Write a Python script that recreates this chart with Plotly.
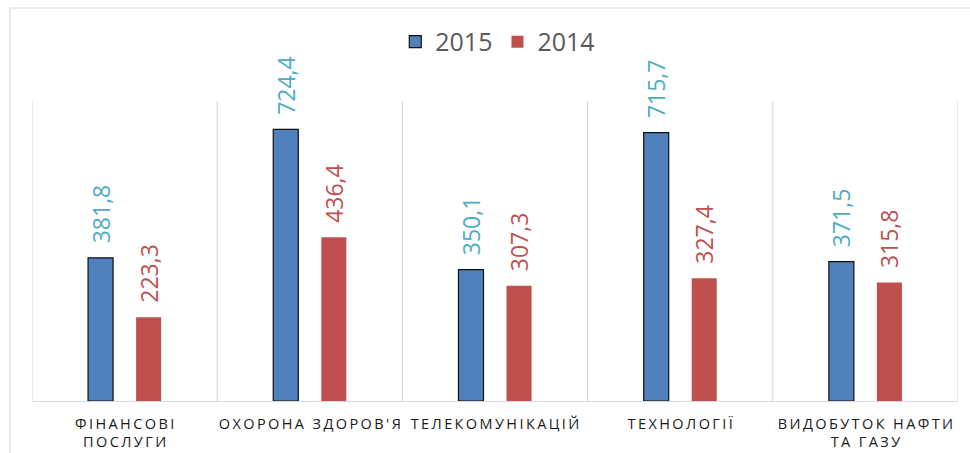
import plotly.graph_objects as go

categories = ["ФІНАНСОВІ<br>ПОСЛУГИ", "ОХОРОНА ЗДОРОВ'Я", "ТЕЛЕКОМУНІКАЦІЙ", "ТЕХНОЛОГІЇ", "ВИДОБУТОК НАФТИ<br>ТА ГАЗУ"]
values_2015 = [381.8, 724.4, 350.1, 715.7, 371.5]
values_2014 = [223.3, 436.4, 307.3, 327.4, 315.8]


def spaced(label):
    lines = label.split("<br>")
    return "<br>".join("\u2009".join(line) for line in lines)


tick_text = [spaced(c) for c in categories]
x_idx = list(range(len(categories)))

FONT = "Open Sans"
LABEL_TEMPLATE = "\u2002%{y:.1f}"

fig = go.Figure()
fig.add_trace(go.Bar(
    name="2015", x=x_idx, y=values_2015,
    marker=dict(color="#4f81bd", line=dict(color="#111111", width=1.2)),
    texttemplate=LABEL_TEMPLATE, textposition="outside", textangle=-90,
    constraintext="none",
    textfont=dict(family=FONT, size=23, color="#4bacc6"),
    cliponaxis=False,
))
fig.add_trace(go.Bar(
    name="2014", x=x_idx, y=values_2014,
    marker=dict(color="#c0504d", line=dict(width=0)),
    texttemplate=LABEL_TEMPLATE, textposition="outside", textangle=-90,
    constraintext="none",
    textfont=dict(family=FONT, size=23, color="#c0504d"),
    cliponaxis=False,
))

fig.update_layout(
    width=970, height=453,
    margin=dict(l=32, r=12, t=101, b=52),
    paper_bgcolor="white", plot_bgcolor="white",
    separators=", ",
    barmode="group", bargap=0.481, bargroupgap=0.479,
    font=dict(family=FONT, color="#262626"),
    legend=dict(orientation="h", x=0.503, xanchor="center", y=1.197, yanchor="middle",
                font=dict(family=FONT, size=25, color="#595959"),
                itemclick=False, bgcolor="rgba(0,0,0,0)"),
    shapes=[dict(type="rect", xref="paper", yref="paper",
                 x0=-0.0238, x1=1.2, y0=-0.3, y1=1.31,
                 line=dict(color="#d9d9d9", width=1.2), fillcolor="rgba(0,0,0,0)", layer="below")],
)
fig.update_xaxes(
    type="linear", range=[-0.5, 4.5],
    tickmode="array", tickvals=x_idx, ticktext=tick_text,
    showgrid=False, ticks="", showline=True, linecolor="#d9d9d9", linewidth=1.2,
    tickfont=dict(family=FONT, size=14.5, color="#1a1a1a"),
    ticklabelstandoff=9, automargin=False,
    zeroline=False,
)
for b in [i - 0.5 for i in range(len(categories) + 1)]:
    fig.add_shape(type="line", xref="x", yref="paper", x0=b, x1=b, y0=0, y1=1,
                  line=dict(color="#d9d9d9", width=1.2), layer="below")
fig.update_yaxes(range=[0, 800], showgrid=False, showticklabels=False, zeroline=False, ticks="",
                 automargin=False)

fig.write_html("out.html", config={"displayModeBar": False},
               post_script="document.body.style.margin='0';document.body.style.padding='0';")
